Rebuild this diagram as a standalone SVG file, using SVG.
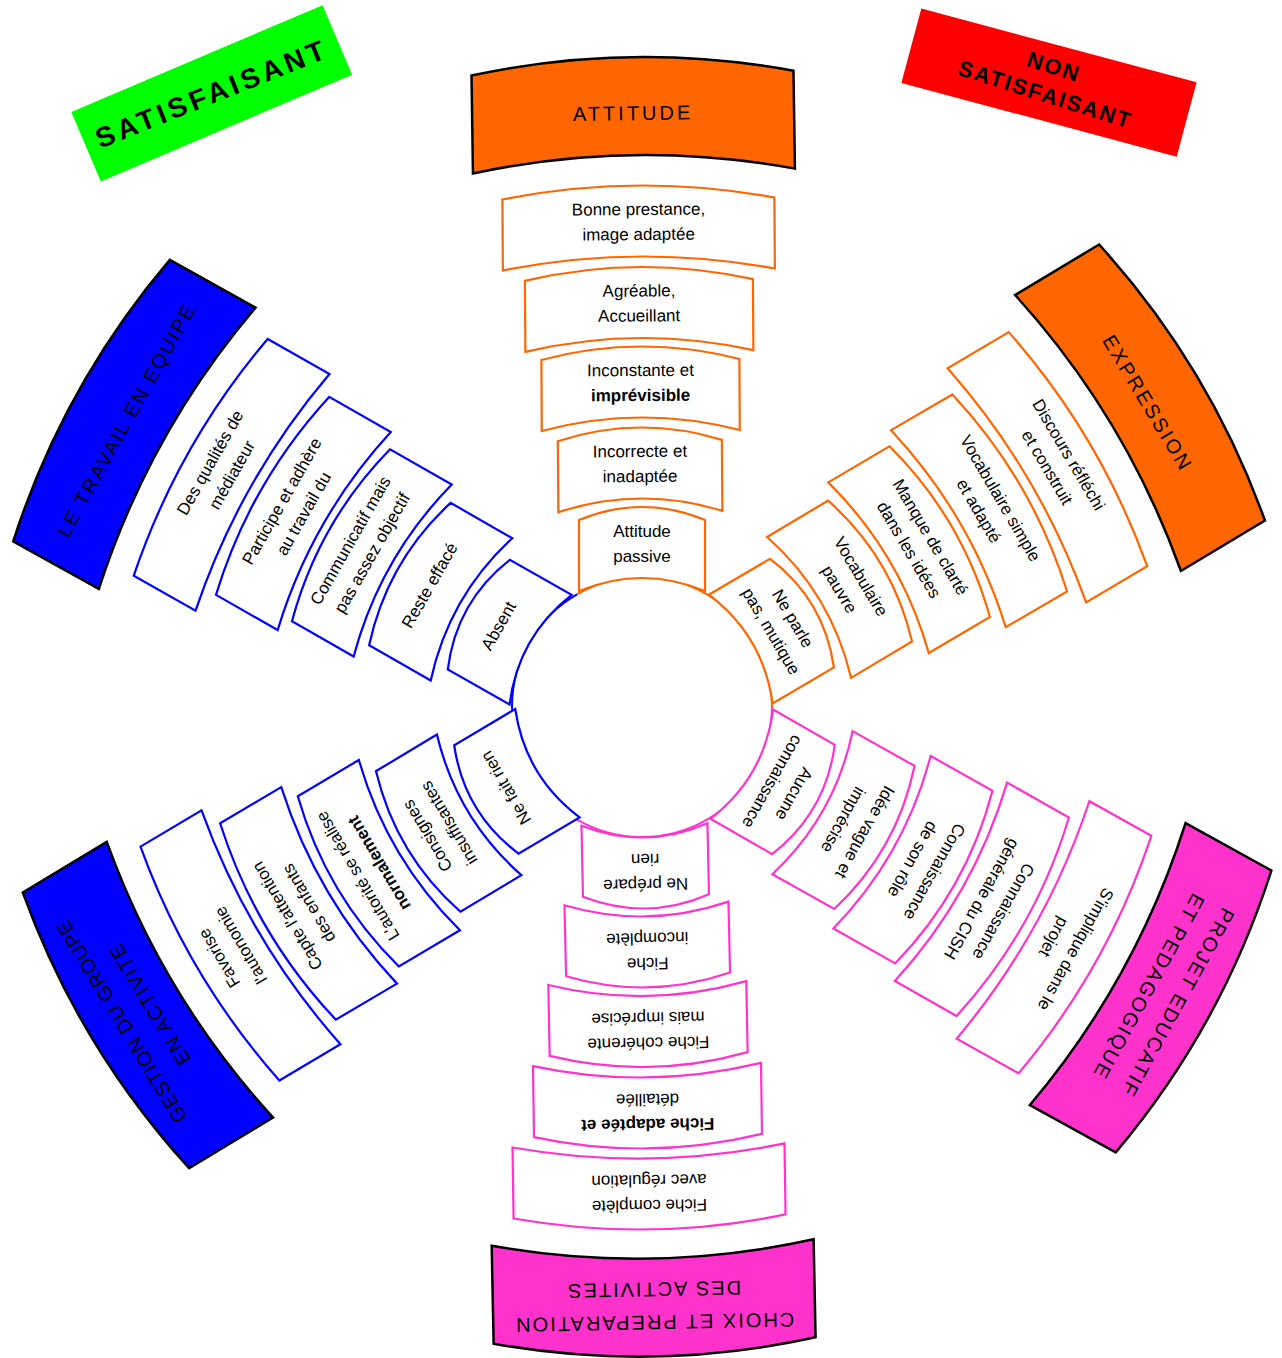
<svg xmlns="http://www.w3.org/2000/svg" width="1282" height="1358" viewBox="0 0 1282 1358">
<style>
.o{fill:#fff;stroke:#FF6600;stroke-width:2.2}
.p{fill:#fff;stroke:#FF33CC;stroke-width:2.2}
.b{fill:#fff;stroke:#0000FF;stroke-width:2.2}
.ho{fill:#FF6600;stroke:#000;stroke-width:2.5}
.hp{fill:#FF33CC;stroke:#000;stroke-width:2.5}
.hb{fill:#0000FF;stroke:#000;stroke-width:2.5}
.arc{fill:none;stroke-width:2}
text{font-family:"Liberation Sans",Arial,sans-serif;text-anchor:middle;fill:#000}
.t{font-size:17px}
.tb{font-size:17px;font-weight:bold}
.h{font-size:20px;letter-spacing:2px}
.badge{font-weight:bold}
</style>
<defs>
<path id="A1" d="M-136,-22.5Q0,-48.5 136,-22.5L136,48.5Q0,22.5 -136,48.5Z"/>
<path id="A2" d="M-114,-22.5Q0,-48.5 114,-22.5L114,48.5Q0,22.5 -114,48.5Z"/>
<path id="A3" d="M-99,-22.5Q0,-48.5 99,-22.5L99,48.5Q0,22.5 -99,48.5Z"/>
<path id="A4" d="M-82,-22.5Q0,-48.5 82,-22.5L82,48.5Q0,22.5 -82,48.5Z"/>
<path id="A5" d="M-63,-22.5Q0,-48.5 63,-22.5L63,48.5Q0,22.5 -63,48.5Z"/>
<path id="HA" d="M-161,-33Q0,-65 161,-33L161,65Q0,33 -161,65Z"/>
</defs>
<rect width="1282" height="1358" fill="#fff"/>

<g id="satisfaisant" transform="translate(211.7 93.3) rotate(-23)">
<rect x="-136.5" y="-37.75" width="273" height="75.5" fill="#00FF00"/>
<text class="badge" y="10" transform="rotate(1.2)" style="font-size:28px;letter-spacing:4px">SATISFAISANT</text>
</g>
<g id="non-satisfaisant" transform="translate(1049 82.6) rotate(15)">
<rect x="-142.5" y="-38.5" width="285" height="77" fill="#FF0000"/>
<g transform="rotate(2.5)">
<text class="badge" y="-9" style="font-size:22px;letter-spacing:2px">NON</text>
<text class="badge" y="20" style="font-size:22px;letter-spacing:2px">SATISFAISANT</text>
</g>
</g>

<g id="hub">
<path class="arc" stroke="#FF6600" d="M577,594.42A130,130 0 0 1 772,707"/>
<path class="arc" stroke="#FF33CC" d="M772,707A130,130 0 0 1 577,819.58"/>
<path class="arc" stroke="#0000FF" d="M577,819.58A130,130 0 0 1 577,594.42"/>
</g>

<!-- ATTITUDE spoke -->
<g id="attitude" transform="translate(642 707) rotate(-0.86) translate(0 -601)"><use href="#HA" class="ho"/><text class="h" y="14" style="letter-spacing:3px">ATTITUDE</text></g>
<g id="att1" transform="translate(642 707) rotate(-0.41) translate(0 -486)"><use href="#A1" class="o"/><text class="t" y="-6">Bonne prestance,</text><text class="t" y="19">image adaptée</text></g>
<g id="att2" transform="translate(642 707) rotate(-0.42) translate(0 -404.5)"><use href="#A2" class="o"/><text class="t" y="-6">Agréable,</text><text class="t" y="19">Accueillant</text></g>
<g id="att3" transform="translate(642 707) rotate(-0.26) translate(0 -325)"><use href="#A3" class="o"/><text class="t" y="-6">Inconstante et</text><text class="tb" y="19">imprévisible</text></g>
<g id="att4" transform="translate(642 707) rotate(-0.47) translate(0 -244)"><use href="#A4" class="o"/><text class="t" y="-6">Incorrecte et</text><text class="t" y="19">inadaptée</text></g>
<g id="att5" transform="translate(642 707) rotate(0) translate(0 -164.5)"><use href="#A5" class="o"/><text class="t" y="-6">Attitude</text><text class="t" y="19">passive</text></g>

<!-- EXPRESSION spoke -->
<g id="expression" transform="translate(642 707) rotate(59) translate(0 -597)"><use href="#HA" class="ho"/><text class="h" y="14" style="letter-spacing:2.5px">EXPRESSION</text></g>
<g id="exp1" transform="translate(642 707) rotate(59.4) translate(0 -484)"><use href="#A1" class="o"/><text class="t" y="-6">Discours réfléchi</text><text class="t" y="19">et construit</text></g>
<g id="exp2" transform="translate(642 707) rotate(59.8) translate(0 -403)"><use href="#A2" class="o"/><text class="t" y="-6">Vocabulaire simple</text><text class="t" y="19">et adapté</text></g>
<g id="exp3" transform="translate(642 707) rotate(59.5) translate(0 -323)"><use href="#A3" class="o"/><text class="t" y="-6">Manque de clarté</text><text class="t" y="19">dans les idées</text></g>
<g id="exp4" transform="translate(642 707) rotate(59.2) translate(0 -243)"><use href="#A4" class="o"/><text class="t" y="-6">Vocabulaire</text><text class="t" y="19">pauvre</text></g>
<g id="exp5" transform="translate(642 707) rotate(59.6) translate(0 -163)"><use href="#A5" class="o"/><text class="t" y="-6">Ne parle</text><text class="t" y="19">pas, mutique</text></g>

<!-- PROJET spoke -->
<g id="projet" transform="translate(642 707) rotate(118.9) translate(0 -597)"><use href="#HA" class="hp"/><text class="h" y="-8">PROJET EDUCATIF</text><text class="h" y="25">ET PEDAGOGIQUE</text></g>
<g id="pro1" transform="translate(642 707) rotate(119.2) translate(0 -485)"><use href="#A1" class="p"/><text class="t" y="-6">S'implique dans le</text><text class="t" y="19">projet</text></g>
<g id="pro2" transform="translate(642 707) rotate(119.5) translate(0 -403.5)"><use href="#A2" class="p"/><text class="t" y="-6">Connaissance</text><text class="t" y="19">générale du CISH</text></g>
<g id="pro3" transform="translate(642 707) rotate(119.4) translate(0 -324)"><use href="#A3" class="p"/><text class="t" y="-6">Connaissance</text><text class="t" y="19">de son rôle</text></g>
<g id="pro4" transform="translate(642 707) rotate(119.3) translate(0 -244)"><use href="#A4" class="p"/><text class="t" y="-6">Idée vague et</text><text class="t" y="19">imprécise</text></g>
<g id="pro5" transform="translate(642 707) rotate(119.8) translate(0 -163.5)"><use href="#A5" class="p"/><text class="t" y="-6">Aucune</text><text class="t" y="19">connaissance</text></g>

<!-- CHOIX spoke -->
<g id="choix" transform="translate(642 707) rotate(178.86) translate(0 -600.6)"><use href="#HA" class="hp"/><text class="h" y="-8">CHOIX ET PREPARATION</text><text class="h" y="25">DES ACTIVITES</text></g>
<g id="cho1" transform="translate(642 707) rotate(179.15) translate(0 -487)"><use href="#A1" class="p"/><text class="t" y="-6">Fiche complète</text><text class="t" y="19">avec régulation</text></g>
<g id="cho2" transform="translate(642 707) rotate(179.2) translate(0 -406)"><use href="#A2" class="p"/><text class="tb" y="-6">Fiche adaptée et</text><text class="t" y="19">détaillée</text></g>
<g id="cho3" transform="translate(642 707) rotate(178.9) translate(0 -324.6)"><use href="#A3" class="p"/><text class="t" y="-6">Fiche cohérente</text><text class="t" y="19">mais imprécise</text></g>
<g id="cho4" transform="translate(642 707) rotate(178.7) translate(0 -245)"><use href="#A4" class="p"/><text class="t" y="-6">Fiche</text><text class="t" y="19">incomplète</text></g>
<g id="cho5" transform="translate(642 707) rotate(178.8) translate(0 -166)"><use href="#A5" class="p"/><text class="t" y="-6">Ne prépare</text><text class="t" y="19">rien</text></g>

<!-- GESTION spoke -->
<g id="gestion" transform="translate(642 707) rotate(238.9) translate(0 -593)"><use href="#HA" class="hb"/><text class="h" y="-8" style="letter-spacing:1px">GESTION DU GROUPE</text><text class="h" y="25" style="letter-spacing:1.5px">EN ACTIVITE</text></g>
<g id="ges1" transform="translate(642 707) rotate(239.3) translate(0 -480)"><use href="#A1" class="b"/><text class="t" y="-6">Favorise</text><text class="t" y="19">l'autonomie</text></g>
<g id="ges2" transform="translate(642 707) rotate(239.5) translate(0 -400)"><use href="#A2" class="b"/><text class="t" y="-6">Capte l'attention</text><text class="t" y="19">des enfants</text></g>
<g id="ges3" transform="translate(642 707) rotate(239.3) translate(0 -319)"><use href="#A3" class="b"/><text class="t" y="-6">L'autorité se réalise</text><text class="tb" y="19">normalement</text></g>
<g id="ges4" transform="translate(642 707) rotate(239) translate(0 -238.5)"><use href="#A4" class="b"/><text class="t" y="-6">Consignes</text><text class="t" y="19">insuffisantes</text></g>
<g id="ges5" transform="translate(642 707) rotate(239.3) translate(0 -158.5)"><use href="#A5" class="b"/><text class="t" y="6">Ne fait rien</text></g>

<!-- TRAVAIL EN EQUIPE spoke -->
<g id="equipe" transform="translate(642 707) rotate(299.1) translate(0 -597)"><use href="#HA" class="hb"/><text class="h" y="14">LE TRAVAIL EN EQUIPE</text></g>
<g id="equ1" transform="translate(642 707) rotate(299.5) translate(0 -484.5)"><use href="#A1" class="b"/><text class="t" y="-6">Des qualités de</text><text class="t" y="19">médiateur</text></g>
<g id="equ2" transform="translate(642 707) rotate(299.75) translate(0 -403)"><use href="#A2" class="b"/><text class="t" y="-6">Participe et adhère</text><text class="t" y="19">au travail du</text></g>
<g id="equ3" transform="translate(642 707) rotate(299.7) translate(0 -324)"><use href="#A3" class="b"/><text class="t" y="-6">Communicatif mais</text><text class="t" y="19">pas assez objectif</text></g>
<g id="equ4" transform="translate(642 707) rotate(299.8) translate(0 -245)"><use href="#A4" class="b"/><text class="t" y="6">Reste effacé</text></g>
<g id="equ5" transform="translate(642 707) rotate(299.5) translate(0 -165)"><use href="#A5" class="b"/><text class="t" y="6">Absent</text></g>
</svg>
